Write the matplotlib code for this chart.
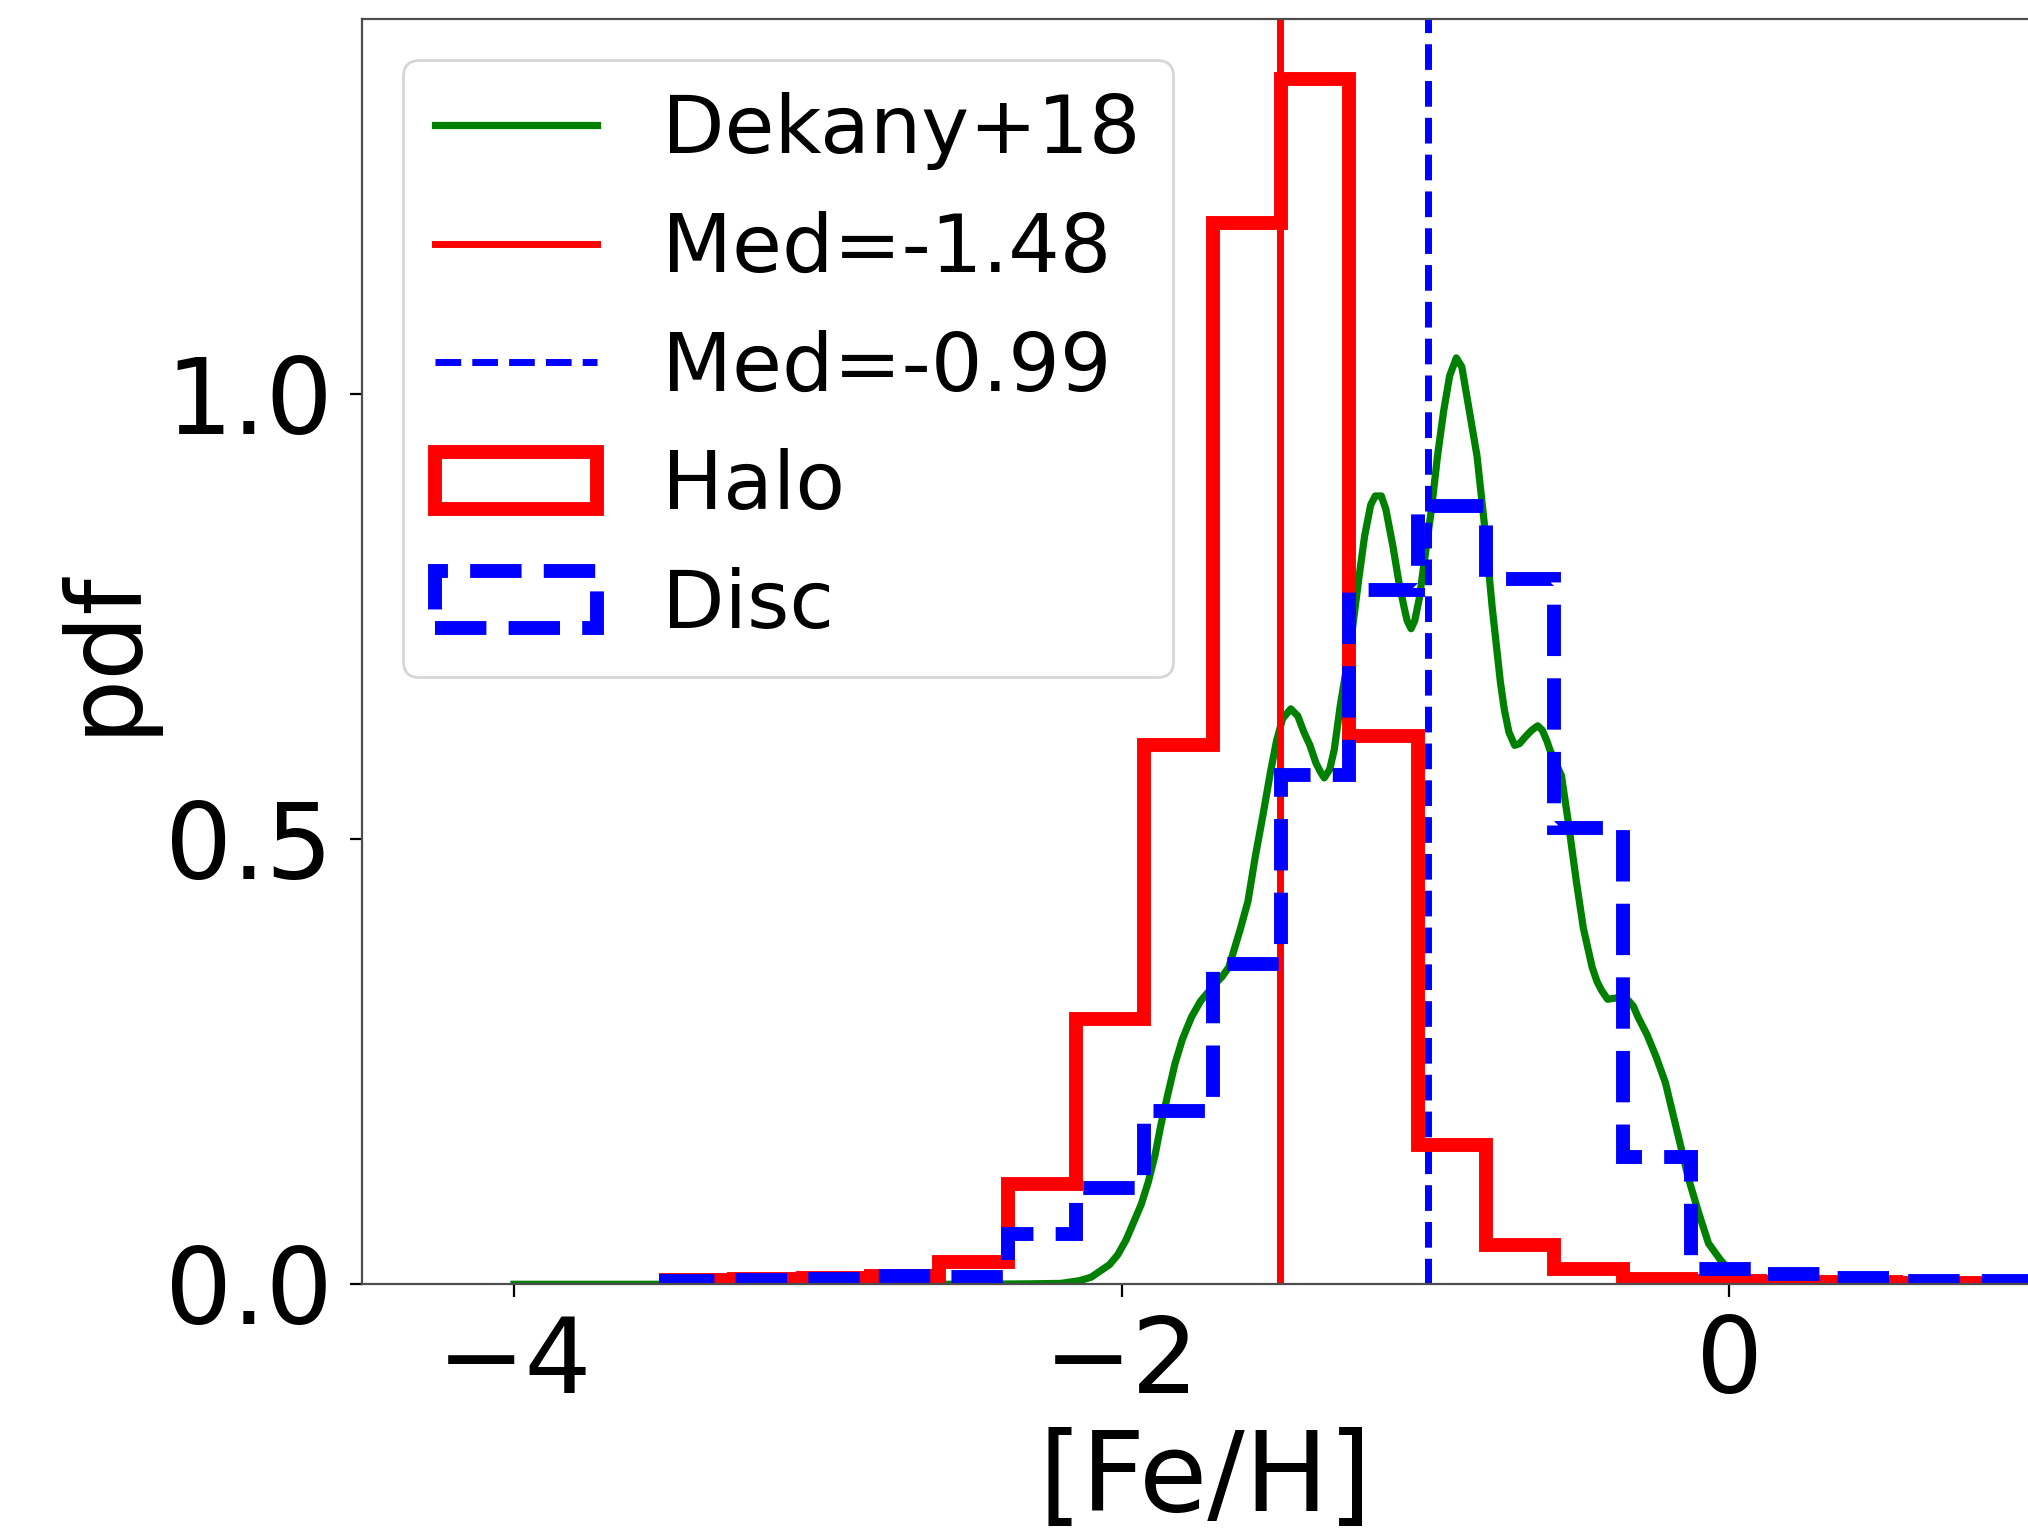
import numpy as np
import matplotlib
matplotlib.use("Agg")
import matplotlib.pyplot as plt

# bordes de los bins del histograma
bin_edges = [-3.5, -3.275, -3.05, -2.825, -2.6, -2.375, -2.15, -1.925, -1.7, -1.475,
             -1.25, -1.025, -0.8, -0.575, -0.35, -0.125, 0.1, 0.325, 0.55, 0.775, 1.0]

# pdf del halo
halo_pdf = [0.0047, 0.0057, 0.0065, 0.0095, 0.0246, 0.113, 0.298, 0.605, 1.192, 1.353,
            0.615, 0.1565, 0.044, 0.017, 0.006, 0.004, 0.003, 0.003, 0.002, 0.002]

# pdf del disco
disc_pdf = [0.004, 0.005, 0.006, 0.009, 0.0085, 0.0567, 0.108, 0.194, 0.36, 0.5715,
            0.779, 0.874, 0.792, 0.5126, 0.1427, 0.017, 0.012, 0.007, 0.004, 0.004]

# curva de Dekany+18
dek_feh = [-4.0, -3.0, -2.5, -2.3, -2.2, -2.139, -2.10, -2.07, -2.04, -2.013, -1.985,
           -1.96, -1.935, -1.912, -1.89, -1.87, -1.85, -1.824, -1.80, -1.77, -1.74,
           -1.71, -1.69, -1.67, -1.647, -1.609, -1.584, -1.56, -1.534, -1.51, -1.49,
           -1.47, -1.443, -1.42, -1.40, -1.38, -1.36, -1.345, -1.333, -1.315, -1.30,
           -1.28, -1.246, -1.22, -1.20, -1.18, -1.165, -1.145, -1.13, -1.106, -1.088,
           -1.07, -1.06, -1.047, -1.035, -1.02, -1.0, -0.98, -0.96, -0.94, -0.92,
           -0.898, -0.88, -0.86, -0.83, -0.804, -0.78, -0.753, -0.74, -0.725, -0.706,
           -0.69, -0.67, -0.65, -0.63, -0.615, -0.60, -0.59, -0.577, -0.552, -0.53,
           -0.502, -0.48, -0.451, -0.435, -0.42, -0.40, -0.38, -0.36, -0.345, -0.33,
           -0.315, -0.30, -0.27, -0.24, -0.21, -0.17, -0.134, -0.10, -0.068, -0.03,
           0.0, 0.03, 0.066, 0.10, 0.15, 0.5]
dek_pdf = [0.0, 0.0, 0.0, 0.0005, 0.001, 0.004, 0.008, 0.015, 0.022, 0.033, 0.05,
           0.07, 0.09, 0.115, 0.145, 0.18, 0.21, 0.248, 0.275, 0.30, 0.318,
           0.33, 0.338, 0.345, 0.356, 0.399, 0.43, 0.48, 0.528, 0.575, 0.61,
           0.635, 0.646, 0.638, 0.62, 0.605, 0.585, 0.575, 0.5685, 0.578, 0.60,
           0.65, 0.72, 0.79, 0.84, 0.875, 0.885, 0.885, 0.87, 0.827, 0.79,
           0.76, 0.745, 0.736, 0.745, 0.77, 0.82, 0.87, 0.93, 0.98, 1.02,
           1.04, 1.03, 0.99, 0.93, 0.848, 0.76, 0.676, 0.645, 0.62, 0.605,
           0.607, 0.615, 0.622, 0.627, 0.622, 0.61, 0.60, 0.59, 0.571, 0.52,
           0.45, 0.40, 0.356, 0.34, 0.33, 0.32, 0.321, 0.322, 0.322, 0.318,
           0.312, 0.30, 0.28, 0.255, 0.2266, 0.17, 0.119, 0.08, 0.046, 0.028,
           0.016, 0.007, 0.002, 0.0005, 0.0, 0.0]

med_halo = -1.48
med_disc = -0.99

fig = plt.figure(figsize=(10.14, 7.65), dpi=200)
ax = fig.add_axes([0.1786, 0.1606, 1.0099 - 0.1786, 0.9873 - 0.1606])

l_dek, = ax.plot(dek_feh, dek_pdf, color='green', lw=2.6, label='Dekany+18')
l_mh = ax.axvline(med_halo, color='red', lw=2.5, label='Med=-1.48')
l_md = ax.axvline(med_disc, color='blue', lw=2.5, ls='--', label='Med=-0.99')
_, _, p_halo = ax.hist(bin_edges[:-1], bins=bin_edges, weights=halo_pdf, histtype='step',
                       color='red', lw=5, label='Halo')
_, _, p_disc = ax.hist(bin_edges[:-1], bins=bin_edges, weights=disc_pdf, histtype='step',
                       color='blue', lw=5, ls='--', label='Disc')

ax.set_xlim(-4.5, 1.05)
ax.set_ylim(0, 1.42)
ax.set_xticks([-4, -2, 0])
ax.set_yticks([0.0, 0.5, 1.0])
ax.tick_params(labelsize=38, length=4.5, pad=6)
for sp in ax.spines.values():
    sp.set_color('0.3')
ax.set_xlabel('[Fe/H]', fontsize=40)
ax.set_ylabel('pdf', fontsize=37)

ax.legend(handles=[l_dek, l_mh, l_md, p_halo[0], p_disc[0]], loc='upper left', fontsize=29.2)

fig.savefig('out.png', dpi=200)
